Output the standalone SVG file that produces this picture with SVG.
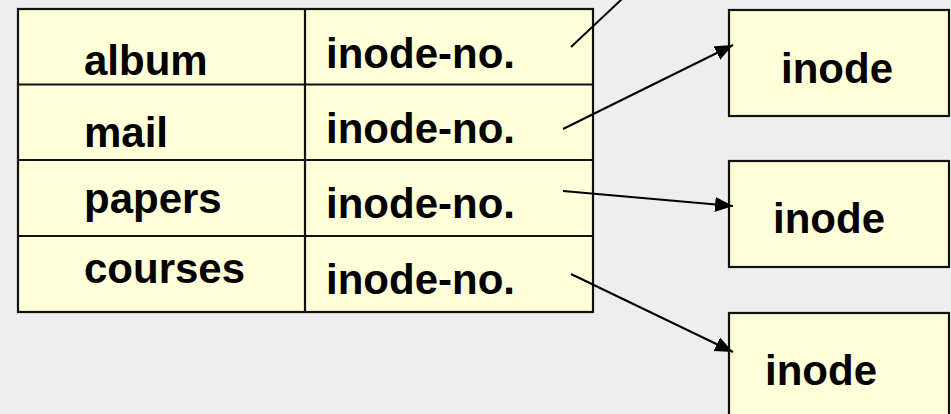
<svg xmlns="http://www.w3.org/2000/svg" width="951" height="414" viewBox="0 0 951 414">
<style>
.cell{fill:#FFFFD9;stroke:#111;stroke-width:2.2}
.rule{stroke:#111;stroke-width:2.2}
.t{font-family:"Liberation Sans",Arial,sans-serif;font-weight:bold;font-size:42px;fill:#000}
.c{stroke:#000;stroke-width:2;fill:none}
</style>
<defs>
<marker id="ah" markerUnits="userSpaceOnUse" markerWidth="20" markerHeight="16" refX="18" refY="7.5" orient="auto">
<path d="M0,0 L18,7.5 L0,15 z" fill="#000"/>
</marker>
</defs>
<rect x="0" y="0" width="951" height="414" fill="#EEEEEE"/>
<g id="table">
<rect class="cell" x="18" y="9" width="575" height="303"/>
<line class="rule" x1="18" y1="84.5" x2="593" y2="84.5"/>
<line class="rule" x1="18" y1="160" x2="593" y2="160"/>
<line class="rule" x1="18" y1="236" x2="593" y2="236"/>
<line class="rule" x1="305" y1="9" x2="305" y2="312"/>
</g>
<g id="row-album"><text class="t" x="84" y="75">album</text><text class="t" x="326" y="68">inode-no.</text></g>
<g id="row-mail"><text class="t" x="84" y="147">mail</text><text class="t" x="326" y="143">inode-no.</text></g>
<g id="row-papers"><text class="t" x="84" y="213">papers</text><text class="t" x="326" y="218">inode-no.</text></g>
<g id="row-courses"><text class="t" x="84" y="283">courses</text><text class="t" x="326" y="294">inode-no.</text></g>
<g id="inode1"><rect class="cell" x="729" y="10" width="220" height="106"/><text class="t" x="781" y="83">inode</text></g>
<g id="inode2"><rect class="cell" x="729" y="161" width="220" height="106"/><text class="t" x="773" y="233">inode</text></g>
<g id="inode3"><rect class="cell" x="729" y="313" width="220" height="120"/><text class="t" x="765" y="385">inode</text></g>
<g id="connectors">
<line class="c" x1="571" y1="47" x2="640" y2="-18"/>
<line class="c" x1="563" y1="129" x2="733" y2="45" marker-end="url(#ah)"/>
<line class="c" x1="563" y1="191" x2="733" y2="206" marker-end="url(#ah)"/>
<line class="c" x1="571" y1="274" x2="733" y2="352" marker-end="url(#ah)"/>
</g>
</svg>
